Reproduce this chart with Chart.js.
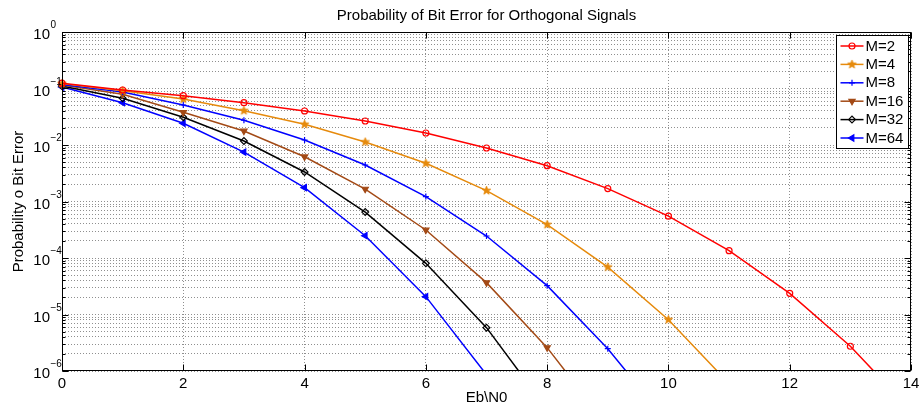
<!DOCTYPE html>
<html>
<head>
<meta charset="utf-8">
<title>Probability of Bit Error for Orthogonal Signals</title>
<script src="https://cdn.jsdelivr.net/npm/chart.js@4.4.1/dist/chart.umd.min.js"></script>
<style>
  html, body { margin: 0; padding: 0; background: #fff; }
  canvas { display: block; }
</style>
</head>
<body>
<canvas id="pbChart" width="921" height="410"></canvas>
<script>
// Eb/N0 in dB, one point per dB
const ebN0 = [0, 1, 2, 3, 4, 5, 6, 7, 8, 9, 10, 11, 12, 13, 14];

// bit error probability for each M (last point of each runs below the axis)
const pbM2 = [0.124, 0.094, 0.0746, 0.0561, 0.040, 0.0266, 0.0163, 0.00885, 0.0043, 0.00169, 5.5e-4, 1.35e-4, 2.37e-5, 2.74e-6, 2.0e-7];
const pbM4 = [0.122, 0.091, 0.065, 0.0405, 0.0232, 0.0113, 0.00474, 0.00156, 3.9e-4, 6.9e-5, 8.1e-6, 6.0e-7];
const pbM8 = [0.118, 0.0867, 0.051, 0.0274, 0.01226, 0.00443, 0.00122, 2.45e-4, 3.24e-5, 2.48e-6, 1.2e-7];
const pbM16 = [0.115, 0.0789, 0.0379, 0.0177, 0.0062, 0.00166, 3.13e-4, 3.66e-5, 2.59e-6, 1.07e-7];
const pbM32 = [0.111, 0.067, 0.0309, 0.01178, 0.00333, 6.5e-4, 8.05e-5, 5.85e-6, 2.1e-7];
const pbM64 = [0.106, 0.0561, 0.0242, 0.0075, 0.00176, 2.48e-4, 2.07e-5, 8.6e-7];

const seriesLabels = ['M=2', 'M=4', 'M=8', 'M=16', 'M=32', 'M=64'];
const xTickValues = [0, 2, 4, 6, 8, 10, 12, 14];
const yDecades = [-6, -5, -4, -3, -2, -1, 0];

const FONT = '"Liberation Sans", Arial, Helvetica, sans-serif';

// 1..9 x 10^k for every decade, used for the grid and the minor ticks
const yGridValues = [];
yDecades.forEach(k => {
  for (let m = 1; m <= 9; m++) {
    if (k === 0 && m > 1) break;
    yGridValues.push(m * Math.pow(10, k));
  }
});

// small filled five-point star marker
function makeStar(color, r) {
  const size = Math.ceil(r * 2 + 2);
  const c = document.createElement('canvas');
  c.width = c.height = size;
  const g = c.getContext('2d');
  const cx = size / 2, cy = size / 2;
  g.beginPath();
  for (let i = 0; i < 10; i++) {
    const rr = i % 2 === 0 ? r : r * 0.42;
    const a = -Math.PI / 2 + i * Math.PI / 5;
    g.lineTo(cx + rr * Math.cos(a), cy + rr * Math.sin(a));
  }
  g.closePath();
  g.fillStyle = color;
  g.fill();
  g.strokeStyle = color;
  g.lineWidth = 0.8;
  g.stroke();
  return c;
}

const orange = '#e68a0c';
const brown = '#a34a16';

const seriesStyle = [
  { data: pbM2, color: '#ff0000', point: 'circle', rot: 0, r: 3, filled: false },
  { data: pbM4, color: orange, point: makeStar(orange, 4.5), rot: 0, r: 4.5, filled: true },
  { data: pbM8, color: '#0000ff', point: 'cross', rot: 0, r: 3, filled: false },
  { data: pbM16, color: brown, point: 'triangle', rot: 180, r: 3.6, filled: true },
  { data: pbM32, color: '#000000', point: 'rectRot', rot: 0, r: 3.4, filled: false },
  { data: pbM64, color: '#0000ff', point: 'triangle', rot: -90, r: 3.6, filled: true }
];

const datasets = seriesStyle.map((s, i) => ({
  label: seriesLabels[i],
  data: s.data.map((v, j) => ({ x: ebN0[j], y: v })),
  borderColor: s.color,
  backgroundColor: s.color,
  borderWidth: 1.5,
  pointStyle: s.point,
  pointRotation: s.rot,
  pointRadius: s.r,
  pointBorderWidth: 1.2,
  pointBorderColor: s.color,
  pointBackgroundColor: s.filled ? s.color : 'rgba(0,0,0,0)',
  tension: 0,
  clip: { left: 8, top: 8, right: 8, bottom: 0 }
}));

// box, inward ticks, superscript labels and the legend, MATLAB style
const axesDecor = {
  id: 'axesDecor',
  afterDraw(chart) {
    const ctx = chart.ctx;
    const area = chart.chartArea;
    const xs = chart.scales.x;
    const ys = chart.scales.y;
    const L = Math.round(area.left) + 0.5;
    const R = Math.round(area.right) - 0.5;
    const T = Math.round(area.top) + 0.5;
    const B = Math.round(area.bottom) - 0.5;

    ctx.save();
    ctx.strokeStyle = '#000';
    ctx.lineWidth = 1;
    ctx.beginPath();

    yGridValues.forEach(v => {
      const py = Math.round(ys.getPixelForValue(v)) + 0.5;
      const major = Math.abs(Math.log10(v) - Math.round(Math.log10(v))) < 1e-9;
      const len = major ? 6 : 3;
      ctx.moveTo(L, py); ctx.lineTo(L + len, py);
      ctx.moveTo(R, py); ctx.lineTo(R - len, py);
    });
    xTickValues.forEach(v => {
      const px = Math.round(xs.getPixelForValue(v)) + 0.5;
      ctx.moveTo(px, B); ctx.lineTo(px, B - 6);
      ctx.moveTo(px, T); ctx.lineTo(px, T + 6);
    });
    ctx.stroke();
    ctx.strokeRect(L, T, R - L, B - T);

    // tick labels
    ctx.fillStyle = '#000';
    ctx.textBaseline = 'alphabetic';
    ctx.textAlign = 'center';
    ctx.font = '15px ' + FONT;
    xTickValues.forEach(v => {
      ctx.fillText(String(v), xs.getPixelForValue(v), area.bottom + 17);
    });
    yDecades.forEach(k => {
      const py = ys.getPixelForValue(Math.pow(10, k));
      ctx.font = '15px ' + FONT;
      ctx.textAlign = 'right';
      ctx.fillText('10', area.left - 12, py + 7);
      ctx.font = '10px ' + FONT;
      ctx.textAlign = 'left';
      ctx.fillText(k === 0 ? '0' : '\u2212' + (-k), area.left - 11.5, py - 4);
    });

    // legend in the upper right corner
    const lw = 72, lh = 113;
    const lx = Math.round(area.right) - 3 - lw + 0.5;
    const ly = Math.round(area.top) + 3 + 0.5;
    ctx.fillStyle = '#fff';
    ctx.fillRect(lx, ly, lw, lh);
    ctx.strokeStyle = '#000';
    ctx.strokeRect(lx, ly, lw, lh);

    chart.data.datasets.forEach((ds, i) => {
      const s = seriesStyle[i];
      const cy = ly + 10.5 + i * 18.4;
      ctx.strokeStyle = s.color;
      ctx.lineWidth = 1.5;
      ctx.beginPath();
      ctx.moveTo(lx + 4, cy);
      ctx.lineTo(lx + 27, cy);
      ctx.stroke();
      ctx.fillStyle = s.filled ? s.color : 'rgba(0,0,0,0)';
      ctx.lineWidth = 1.2;
      Chart.helpers.drawPoint(ctx, {
        pointStyle: s.point, rotation: s.rot, radius: s.r, borderWidth: 1.2
      }, lx + 15.5, cy);
      ctx.fillStyle = '#000';
      ctx.font = '15px ' + FONT;
      ctx.textAlign = 'left';
      ctx.textBaseline = 'middle';
      ctx.fillText(ds.label, lx + 29, cy + 0.5);
    });
    ctx.restore();
  }
};

const gridStyle = { color: '#8f8f8f', lineWidth: 1, drawTicks: false };
const gridBorder = { display: false, dash: [1, 2] };

new Chart(document.getElementById('pbChart'), {
  type: 'line',
  data: { datasets },
  options: {
    responsive: false,
    animation: false,
    devicePixelRatio: 1,
    layout: { padding: { left: 0, right: 10, top: 0, bottom: 0 } },
    plugins: {
      legend: { display: false },
      tooltip: { enabled: false },
      title: {
        display: true,
        text: 'Probability of Bit Error for Orthogonal Signals',
        fullSize: false,
        color: '#000',
        font: { family: FONT, size: 15, weight: 'normal' },
        padding: { top: 6.5, bottom: 7.5 }
      }
    },
    scales: {
      x: {
        type: 'linear',
        min: 0,
        max: 14,
        ticks: { display: false, stepSize: 2 },
        grid: gridStyle,
        border: gridBorder,
        title: {
          display: true,
          text: 'Eb\\N0',
          color: '#000',
          font: { family: FONT, size: 15 },
          padding: { top: 0, bottom: 3 }
        },
        afterFit: s => { s.height = 39; }
      },
      y: {
        type: 'logarithmic',
        min: 1e-6,
        max: 1,
        ticks: { display: false },
        afterBuildTicks: s => { s.ticks = yGridValues.map(v => ({ value: v })); },
        grid: gridStyle,
        border: gridBorder,
        title: {
          display: true,
          text: 'Probability o Bit Error',
          color: '#000',
          font: { family: FONT, size: 15 },
          padding: { top: 10, bottom: 0 }
        },
        afterFit: s => { s.width = 62; }
      }
    }
  },
  plugins: [axesDecor]
});
</script>
</body>
</html>
